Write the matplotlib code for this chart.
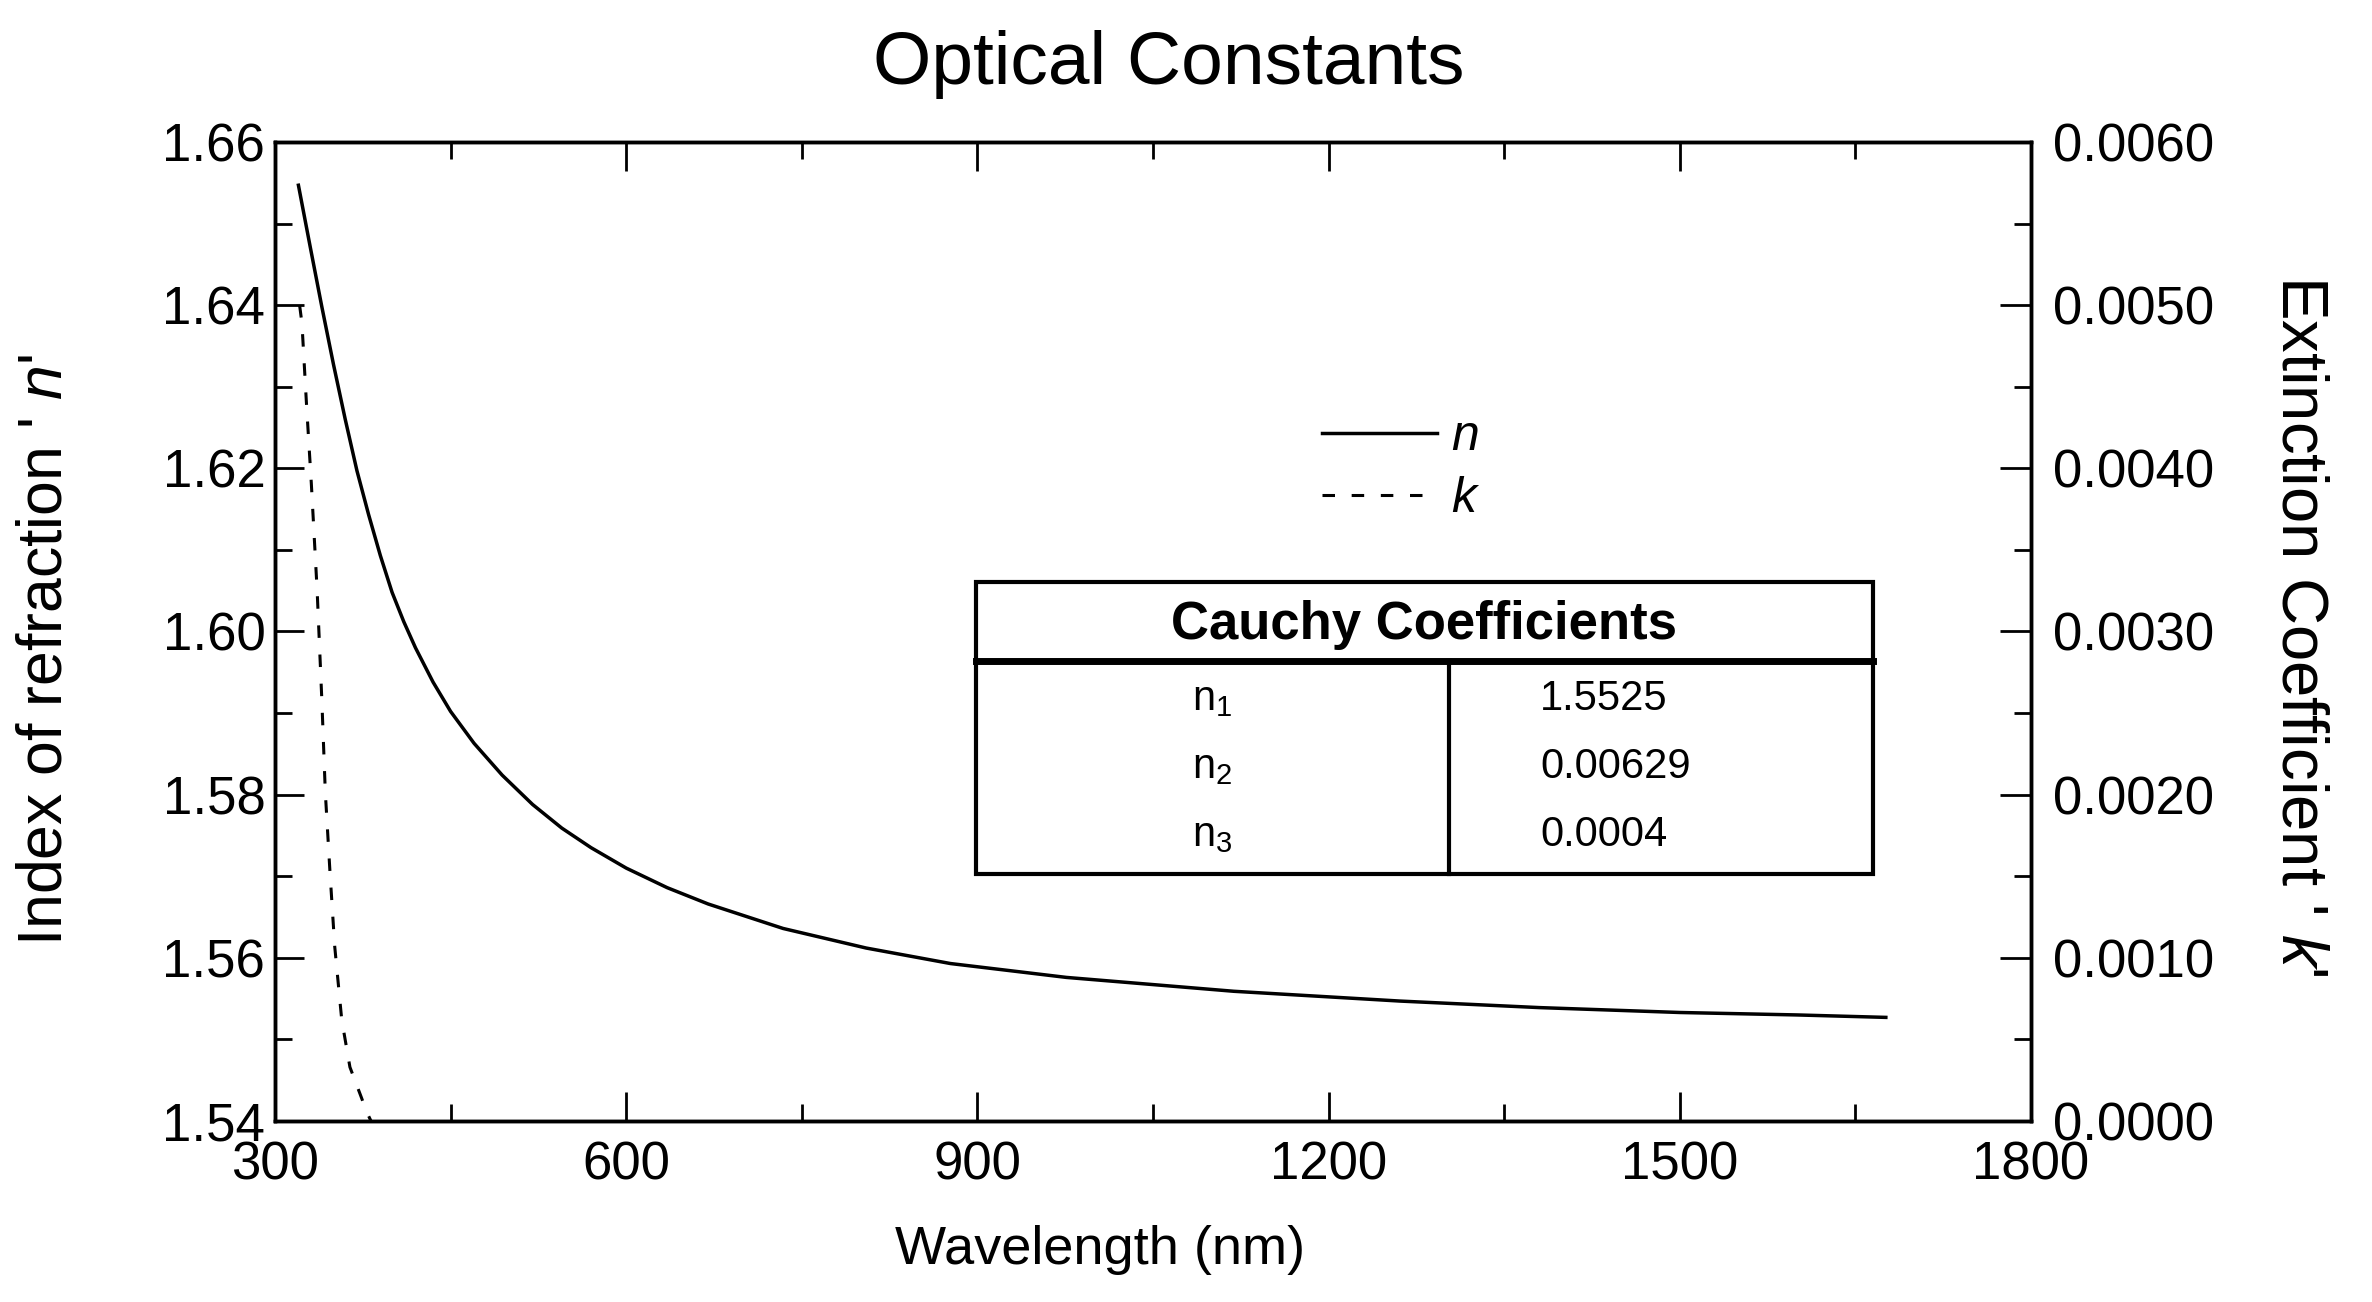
import matplotlib
matplotlib.use("Agg")
import matplotlib.pyplot as plt
from matplotlib.ticker import MultipleLocator, FormatStrFormatter
from matplotlib.patches import Rectangle

plt.rcParams['font.family'] = ['Liberation Sans', 'DejaVu Sans']
plt.rcParams['mathtext.fontset'] = 'custom'
plt.rcParams['mathtext.rm'] = 'Liberation Sans'
plt.rcParams['mathtext.it'] = 'Liberation Sans:italic'
plt.rcParams['lines.scale_dashes'] = False

# values
wavelength_n = [320, 330, 340, 350, 360, 370, 380, 390, 400, 410, 420, 435, 450, 470,
                494, 520, 545, 570, 600, 635, 670, 734, 805, 877, 976, 1119, 1261,
                1380, 1500, 1600, 1676]
n_values = [1.6547, 1.6472, 1.6398, 1.6327, 1.6260, 1.6197, 1.6143, 1.6093, 1.6048,
            1.6012, 1.5980, 1.5938, 1.5902, 1.5863, 1.5824, 1.5788, 1.5759, 1.5735,
            1.5710, 1.5686, 1.5666, 1.5636, 1.5612, 1.5593, 1.5576, 1.5559, 1.5547,
            1.5539, 1.5533, 1.5530, 1.5527]

wavelength_k = [321, 323, 327, 331, 336, 340, 343, 347, 351, 357, 364, 374, 378, 382]
k_values = [0.00500, 0.00489, 0.00438, 0.00391, 0.00325, 0.00258, 0.00201, 0.00152,
            0.00107, 0.00062, 0.00033, 0.00014, 0.00006, 0.0]

coef_names = [r'$\mathrm{n}_1$', r'$\mathrm{n}_2$', r'$\mathrm{n}_3$']
coef_values = ['1.5525', '0.00629', '0.0004']

fig = plt.figure(figsize=(23.72, 13.02), dpi=100)
ax = fig.add_axes([0.11594, 0.13902, 0.74030, 0.75192])
ax2 = ax.twinx()

line_n, = ax.plot(wavelength_n, n_values, color='black', lw=2.5, label='n')
line_k, = ax2.plot(wavelength_k, k_values, color='black', lw=2.2, dashes=(9, 12), label='k')

ax.set_xlim(300, 1800)
ax.set_ylim(1.54, 1.66)
ax2.set_ylim(0, 0.006)

ax.xaxis.set_major_locator(MultipleLocator(300))
ax.xaxis.set_minor_locator(MultipleLocator(150))
ax.yaxis.set_major_locator(MultipleLocator(0.02))
ax.yaxis.set_minor_locator(MultipleLocator(0.01))
ax.yaxis.set_major_formatter(FormatStrFormatter('%.2f'))
ax2.yaxis.set_major_locator(MultipleLocator(0.001))
ax2.yaxis.set_minor_locator(MultipleLocator(0.0005))
ax2.yaxis.set_major_formatter(FormatStrFormatter('%.4f'))

ax.tick_params(which='both', direction='in', top=True, right=False, width=2, labelsize=38)
ax.tick_params(which='major', length=21)
ax.tick_params(which='minor', length=12)
ax.tick_params(axis='x', pad=14)
ax.tick_params(axis='y', pad=7)
ax2.tick_params(which='both', direction='in', width=2, labelsize=38, pad=16)
ax2.tick_params(which='major', length=22)
ax2.tick_params(which='minor', length=12)
for a in (ax, ax2):
    for s in a.spines.values():
        s.set_linewidth(2.5)

# text
fig.text(0.4928, 0.9508, 'Optical Constants', fontsize=54, ha='center', va='center')
fig.text(0.4637, 0.0399, 'Wavelength (nm)', fontsize=39, ha='center', va='center')
fig.text(0.019, 0.5008, "Index of refraction ' $n$'", fontsize=45, rotation=90,
         ha='center', va='center')
fig.text(0.9696, 0.5192, "Extinction Coefficient ' $k$'", fontsize=47, rotation=270,
         ha='center', va='center')

# legend
ax2.legend(handles=[line_n, line_k], loc='upper left', bbox_to_anchor=(0.596, 0.722),
           frameon=False, prop={'style': 'italic', 'size': 36}, borderpad=0,
           borderaxespad=0, handlelength=2.3, handletextpad=0.3, labelspacing=0.32)

# Cauchy coefficients table
tl, tr, tt, tb, th, tdiv = 0.3991, 0.9099, 0.5502, 0.2519, 0.4699, 0.6687
ax2.add_patch(Rectangle((tl, tb), tr - tl, tt - tb, transform=ax2.transAxes,
                        facecolor='white', edgecolor='black', lw=3, zorder=5))
ax2.plot([tl, tr], [th, th], transform=ax2.transAxes, color='black', lw=5, zorder=6)
ax2.plot([tdiv, tdiv], [tb, th], transform=ax2.transAxes, color='black', lw=3, zorder=6)
ax2.text((tl + tr) / 2, 0.5066, 'Cauchy Coefficients', transform=ax2.transAxes,
         fontsize=38, fontweight='bold', ha='center', va='center', zorder=7)
row_y = [0.431, 0.3616, 0.292]
for name, val, y in zip(coef_names, coef_values, row_y):
    ax2.text((tl + tdiv) / 2, y, name, transform=ax2.transAxes, fontsize=30,
             ha='center', va='center', zorder=7)
    ax2.text(0.7204, y, val, transform=ax2.transAxes, fontsize=30,
             ha='left', va='center', zorder=7)

fig.savefig('out.png', dpi=100)
